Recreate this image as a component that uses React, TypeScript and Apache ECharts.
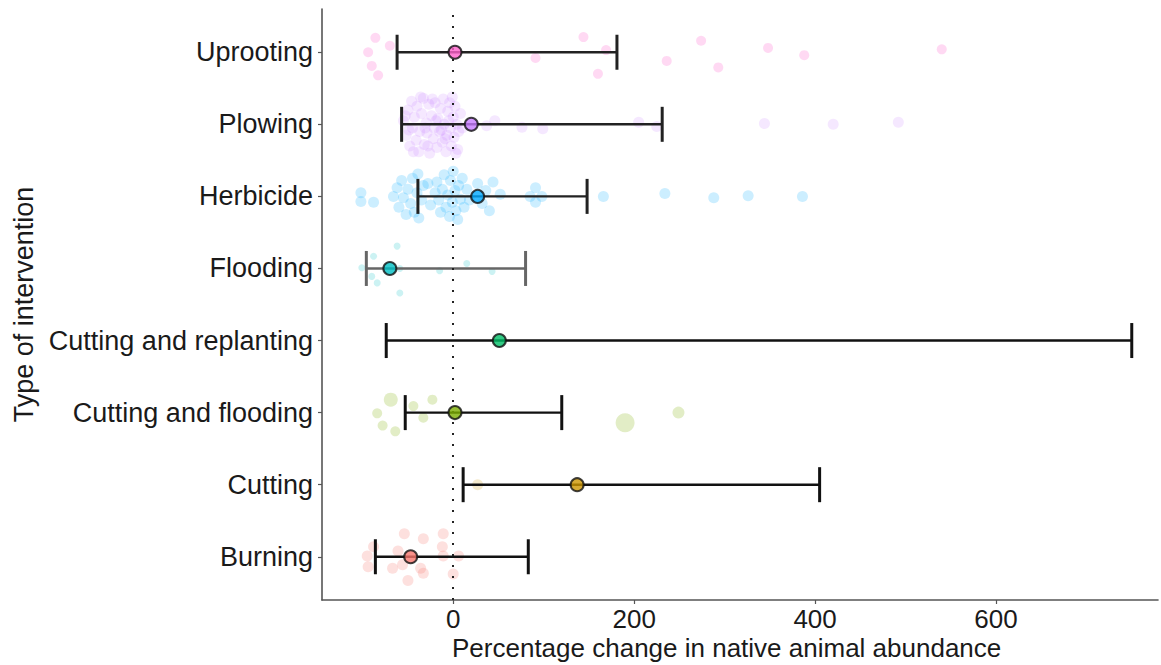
import React, { useEffect, useRef } from "react";
import * as echarts from "echarts";

// Categories from bottom (1) to top (8)
const categories = [
  "Burning",
  "Cutting",
  "Cutting and flooding",
  "Cutting and replanting",
  "Flooding",
  "Herbicide",
  "Plowing",
  "Uprooting",
];

// Summary: mean and error bar bounds (percentage change)
const means = [-47, 137, 2, 51, -70, 27, 20, 2];
const lower = [-86, 11, -53, -74, -96, -39, -57, -62];
const upper = [83, 405, 120, 750, 80, 148, 231, 181];

const xTicks = [0, 200, 400, 600];
const yTicks = [1, 2, 3, 4, 5, 6, 7, 8];
const xTitle = "Percentage change in native animal abundance";
const yTitle = "Type of intervention";

// Raw (jittered) observations: [value, jittered category position, optional size]
const burningPts = [
  [-54, 1.32], [-33, 1.25], [-11, 1.32], [-12, 1.14], [-88, 1.14], [-95, 1.01],
  [-61, 1.08], [-67, 0.84], [-56, 0.89], [-36, 0.84], [-33, 0.77], [-50, 0.67],
  [6, 1.01], [0, 0.76], [-94, 0.86], [-11, 1.01],
];
const cuttingPts = [[27, 2.0]];
const cutFloodPts = [
  [-69, 3.18, 14], [-84, 2.99], [-78, 2.82], [-64, 2.74], [-44, 3.09],
  [-23, 3.18], [-33, 2.93], [190, 2.86, 19], [249, 3.0, 12],
];
const replantPts: number[][] = [];
const floodingPts = [
  [-62, 5.31], [-88, 5.17], [-101, 5.01], [-90, 4.89], [-84, 4.8], [-59, 5.0],
  [-59, 4.66], [-15, 4.97], [15, 5.07], [43, 4.96],
];
const herbicidePts = [
  [-102, 6.05], [-102, 5.93], [-88, 5.92],
  [-66, 6.0], [-62, 6.12], [-60, 5.85], [-57, 6.22], [-55, 5.98], [-52, 5.75],
  [-50, 6.1], [-47, 5.9], [-45, 6.25], [-43, 5.78], [-40, 6.05], [-39, 6.31],
  [-38, 5.7], [-35, 5.95], [-33, 6.15],
  [-18, 6.2], [-16, 5.95], [-14, 5.78], [-12, 6.1], [-10, 6.3], [-8, 5.85],
  [-6, 6.02], [-4, 5.72], [-3, 6.22], [-1, 5.92], [0, 6.35], [2, 6.08], [3, 5.8],
  [5, 5.68], [6, 6.15], [8, 5.96], [10, 6.25], [-20, 6.05], [-25, 5.88],
  [-28, 6.18], [12, 5.85], [15, 6.1], [18, 5.95],
  [27, 6.18], [32, 5.9], [36, 6.08], [40, 5.8], [44, 6.2], [52, 6.03],
  [91, 6.12], [91, 5.92], [98, 6.0], [85, 6.0], [166, 6.0],
  [234, 6.04], [288, 5.98], [326, 6.01], [386, 6.0],
];
const plowingPts = [
  [-55, 7.05], [-52, 6.85], [-50, 7.2], [-48, 6.7], [-46, 7.32], [-45, 6.95],
  [-43, 7.1], [-41, 6.78], [-40, 7.25], [-38, 6.62], [-37, 6.9], [-35, 7.15],
  [-33, 7.36], [-32, 6.72], [-30, 7.02], [-29, 6.88], [-27, 7.28], [-26, 6.6],
  [-24, 7.12], [-22, 6.8], [-21, 6.95], [-20, 7.3], [-18, 6.68], [-17, 7.08],
  [-15, 6.9], [-14, 7.22], [-12, 6.75], [-11, 7.35], [-10, 7.0], [-8, 6.62],
  [-7, 6.85], [-6, 7.18], [-4, 7.3], [-3, 6.95], [-2, 6.7], [0, 7.1], [1, 6.82],
  [2, 7.25], [4, 7.0], [5, 6.65], [6, 6.9], [8, 7.15], [-53, 7.12], [-44, 6.62],
  [-36, 7.38], [-28, 6.7], [-19, 7.05], [-9, 6.8], [-1, 7.38], [3, 6.6],
  [-49, 6.92], [-31, 6.95], [-23, 7.35], [-13, 6.92], [-5, 7.05], [10, 6.95],
  [37, 6.98], [46, 7.05], [76, 6.96], [99, 6.94], [205, 7.03], [225, 6.97],
  [344, 7.01], [420, 7.0], [492, 7.03],
];
const uprootingPts = [
  [-86, 8.2], [-70, 8.09], [-94, 8.0], [-90, 7.81], [-83, 7.68], [91, 7.92],
  [144, 8.21], [169, 8.03], [160, 7.7], [236, 7.88], [274, 8.16], [293, 7.79],
  [348, 8.06], [388, 7.96], [540, 8.04],
];

const rawPoints = [
  burningPts, cuttingPts, cutFloodPts, replantPts,
  floodingPts, herbicidePts, plowingPts, uprootingPts,
];

const hues = [
  "#F8766D", "#CD9600", "#7CAE00", "#00BE67",
  "#00BFC4", "#00A9FF", "#C77CFF", "#FF61CC",
];
const rawAlpha = [0.28, 0.25, 0.28, 0.25, 0.25, 0.25, 0.22, 0.3];
const rawSize = [11, 11, 10, 10, 7, 11, 11, 10];
const barColors = ["#111", "#111", "#111", "#111", "#666", "#222", "#222", "#222"];

function hexToRgba(hex: string, a: number) {
  const n = parseInt(hex.slice(1), 16);
  return `rgba(${(n >> 16) & 255},${(n >> 8) & 255},${n & 255},${a})`;
}

const FONT = "Liberation Sans, Arial, sans-serif";

export default function App() {
  const ref = useRef<HTMLDivElement>(null);
  useEffect(() => {
    if (!ref.current) return;
    const chart = echarts.init(ref.current, undefined, { renderer: "svg" });

    const rawSeries = rawPoints.map((pts, i) => ({
      type: "scatter",
      name: categories[i] + " raw",
      data: pts,
      symbolSize: (v: number[]) => (v[2] ? v[2] : rawSize[i]),
      itemStyle: { color: hexToRgba(hues[i], rawAlpha[i]) },
      z: 2,
      silent: true,
    }));

    const errData = categories.map((_, i) => [lower[i], upper[i], i + 1]);
    const meanData = categories.map((_, i) => ({
      value: [means[i], i + 1],
      itemStyle: { color: hues[i] },
    }));

    const option = {
      animation: false,
      backgroundColor: "#fff",
      grid: { left: 322, right: 3, top: 9, bottom: 65, containLabel: false },
      graphic: [
        {
          type: "text",
          left: 452,
          top: 635,
          style: { text: xTitle, fontSize: 26, lineHeight: 26, fill: "#1a1a1a", fontFamily: FONT },
          silent: true,
        },
      ],
      xAxis: {
        type: "value",
        min: -145,
        max: 779,
        axisLine: { show: true, onZero: false, lineStyle: { color: "#555", width: 1.6 } },
        axisTick: { show: true, length: 4, customValues: xTicks, lineStyle: { color: "#555", width: 1.2 } },
        axisLabel: {
          customValues: xTicks,
          fontSize: 26,
          lineHeight: 24,
          color: "#1a1a1a",
          fontFamily: FONT,
          margin: 7,
        },
        splitLine: { show: false },
      },
      yAxis: {
        type: "value",
        min: 0.4,
        max: 8.6,
        name: yTitle,
        nameLocation: "middle",
        nameGap: 282,
        nameTextStyle: { fontSize: 27, color: "#1a1a1a", fontFamily: FONT },
        axisLine: { show: true, onZero: false, lineStyle: { color: "#555", width: 1.6 } },
        axisTick: { show: true, length: 4, customValues: yTicks, lineStyle: { color: "#555", width: 1.2 } },
        axisLabel: {
          customValues: yTicks,
          formatter: (v: number) => categories[Math.round(v) - 1] ?? "",
          fontSize: 27,
          color: "#1a1a1a",
          fontFamily: FONT,
          margin: 9,
        },
        splitLine: { show: false },
      },
      series: [
        ...rawSeries,
        {
          type: "scatter",
          name: "zero",
          data: [],
          silent: true,
          z: 3,
          markLine: {
            silent: true,
            symbol: "none",
            label: { show: false },
            lineStyle: { type: [2, 9], color: "#222", width: 2 },
            data: [{ xAxis: 0 }],
          },
        },
        {
          type: "custom",
          name: "errorbars",
          data: errData,
          encode: { x: [0, 1], y: 2 },
          z: 4,
          silent: true,
          renderItem: (params: any, api: any) => {
            const y = api.value(2);
            const p1 = api.coord([api.value(0), y]);
            const p2 = api.coord([api.value(1), y]);
            const h = 17.5;
            const stroke = barColors[params.dataIndex];
            return {
              type: "group",
              children: [
                { type: "line", shape: { x1: p1[0], y1: p1[1], x2: p2[0], y2: p2[1] }, style: { stroke, lineWidth: 2.4 } },
                { type: "line", shape: { x1: p1[0], y1: p1[1] - h, x2: p1[0], y2: p1[1] + h }, style: { stroke, lineWidth: 3 } },
                { type: "line", shape: { x1: p2[0], y1: p2[1] - h, x2: p2[0], y2: p2[1] + h }, style: { stroke, lineWidth: 3 } },
              ],
            };
          },
        },
        {
          type: "scatter",
          name: "means",
          data: meanData,
          symbolSize: 13,
          itemStyle: { borderColor: "#111", borderWidth: 2 },
          z: 5,
          silent: true,
        },
      ],
    };

    chart.setOption(option as any);
    return () => chart.dispose();
  }, []);

  return (
    <div
      ref={ref}
      style={{ position: "fixed", left: 0, top: 0, width: 1161, height: 665, background: "#fff" }}
    />
  );
}
